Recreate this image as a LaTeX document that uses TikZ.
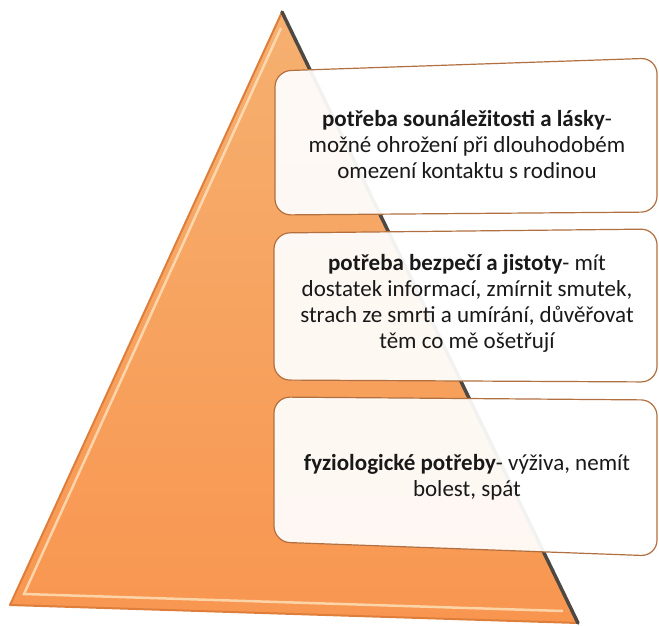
\documentclass[tikz,border=0pt]{standalone}
\usepackage{fontspec}
\setmainfont{Carlito}
\definecolor{oranzova}{RGB}{248,150,80}
\definecolor{svetla}{RGB}{246,176,112}
\definecolor{hrana}{RGB}{222,126,58}
\definecolor{odlesk}{RGB}{255,226,190}
\definecolor{stin}{RGB}{78,72,66}
\definecolor{okraj}{RGB}{178,112,64}
\tikzset{
  stupen/.style={draw=okraj, line width=1.2pt, fill=white, fill opacity=.93, rounded corners=16pt},
  popis/.style={align=center, font=\fontsize{23}{26}\selectfont, text=black!90}
}

\begin{document}
\begin{tikzpicture}[x=1pt, y=-1pt]
        \useasboundingbox (0,0) rectangle (659,625);
        % pyramida
        \shade[top color=svetla, bottom color=oranzova] (282,12) -- (10,605) -- (578,623) -- cycle;
        \draw[line width=2pt, hrana, line join=round] (282,12) -- (10,605) -- (578,623);
        \draw[line width=2.5pt, odlesk, opacity=.8] (281,28) -- (24,594) -- (563,611);
        \draw[line width=3.5pt, stin, line cap=round] (282,12) -- (578,623);
        % stupne
        \draw[stupen] (275,71) -- (657,58) -- (657,212) -- (275,215) -- cycle;
        \draw[stupen] (274,233) -- (657,229) -- (657,382) -- (274,380) -- cycle;
        \draw[stupen] (274,397) -- (657,400) -- (657,556) -- (274,542) -- cycle;
        \node[popis] (laska) at (467,144) {\textbf{potřeba sounáležitosti a lásky}-\\možné ohrožení při dlouhodobém\\omezení kontaktu s rodinou};
        \node[popis] (bezpeci) at (467,303) {\textbf{potřeba bezpečí a jistoty}- mít\\dostatek informací, zmírnit smutek,\\strach ze smrti a umírání, důvěřovat\\těm co mě ošetřují};
        \node[popis] (fyziologie) at (467,477) {\textbf{fyziologické potřeby}- výživa, nemít\\bolest, spát};
    \end{tikzpicture}
\end{document}
